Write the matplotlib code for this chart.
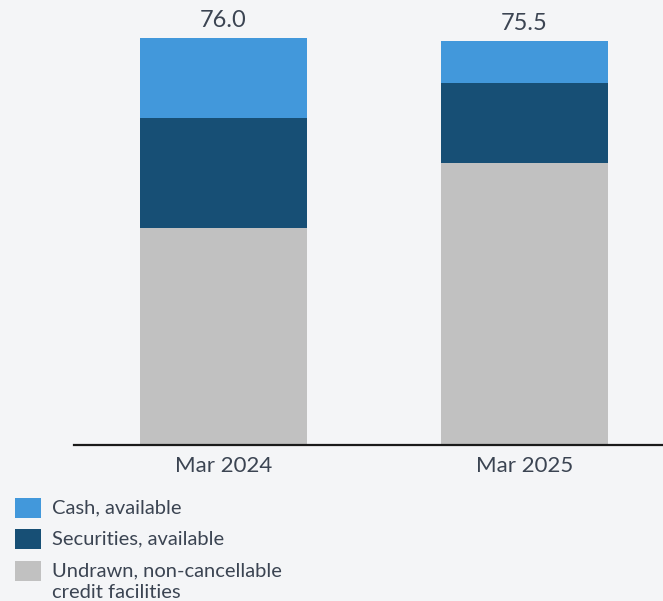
import matplotlib
matplotlib.use("Agg")
import matplotlib.pyplot as plt
from matplotlib.patches import Rectangle

# liquidity reserve, EUR bn
periods = ["Mar 2024", "Mar 2025"]
undrawn = [40.5, 52.6]
securities = [20.5, 15.0]
cash = [15.0, 7.9]
totals = [76.0, 75.5]

labels = ["Cash, available", "Securities, available",
          "Undrawn, non-cancellable\ncredit facilities"]
colors = ["#4298db", "#174f75", "#c1c1c1"]

bg = "#f4f5f7"
txt = "#3b4452"
plt.rcParams["font.family"] = ["Lato", "DejaVu Sans"]

W, H = 663, 601
fig = plt.figure(figsize=(6.63, 6.01), dpi=100, facecolor=bg)
ax = fig.add_axes([73.6 / W, 156.5 / H, 1 - 73.6 / W, 414.5 / H])
ax.set_facecolor(bg)

x = list(range(len(periods)))
w = 0.555
ax.bar(x, undrawn, w, color=colors[2])
bot = [u for u in undrawn]
ax.bar(x, securities, w, bottom=bot, color=colors[1])
bot = [u + s for u, s in zip(undrawn, securities)]
ax.bar(x, cash, w, bottom=bot, color=colors[0])

for xi, t in zip(x, totals):
    ax.text(xi, t + 1.3, f"{t:.1f}", ha="center", va="bottom", fontsize=17, color=txt)

ax.set_xlim(-0.498, 1.46)
ax.set_ylim(0, 77.5)
ax.set_xticks(x)
ax.set_xticklabels(periods, fontsize=16, color=txt)
ax.tick_params(axis="x", length=0, pad=8)
ax.set_yticks([])
for s in ["top", "right", "left"]:
    ax.spines[s].set_visible(False)
ax.spines["bottom"].set_color("#1a1a1a")
ax.spines["bottom"].set_linewidth(1.6)

# legend drawn by hand: square next to the first line of each label
row_y = [508, 539, 571]
for yc, lab, c in zip(row_y, labels, colors):
    fig.add_artist(Rectangle((15 / W, 1 - (yc + 10) / H), 26 / W, 20 / H,
                             transform=fig.transFigure, facecolor=c, edgecolor="none"))
    for k, line in enumerate(lab.split("\n")):
        fig.text(52 / W, 1 - (yc + 22 * k) / H, line, ha="left", va="center",
                 fontsize=14.5, color=txt)

fig.savefig("out.png", dpi=100, facecolor=bg)
